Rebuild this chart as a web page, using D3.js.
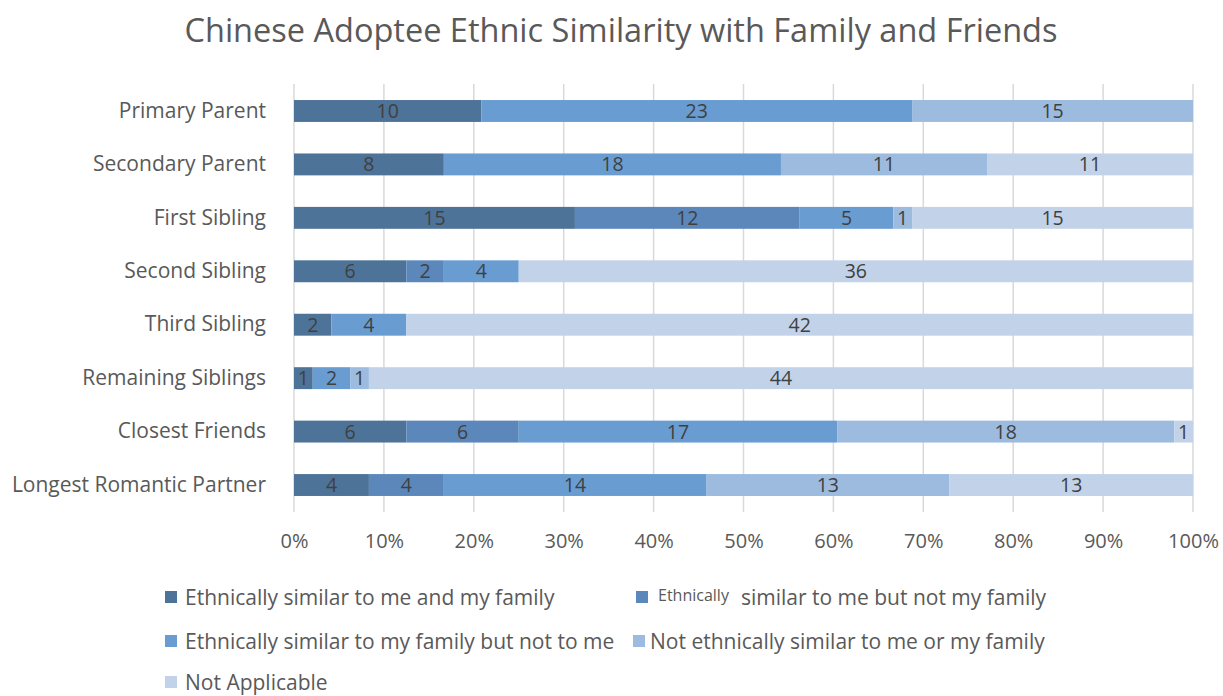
<!DOCTYPE html>
<html lang="en">
<head>
<meta charset="utf-8">
<script src="https://d3js.org/d3.v7.min.js"></script>
<style>
  body { margin: 0; background: #fff; }
  text { font-family: "Open Sans", sans-serif; }
</style>
</head>
<body>
<div id="chart"></div>
<script>

// categories, top to bottom
var categories = ["Primary Parent", "Secondary Parent", "First Sibling", "Second Sibling",
  "Third Sibling", "Remaining Siblings", "Closest Friends", "Longest Romantic Partner"];

// series names
var seriesNames = ["Ethnically similar to me and my family",
  "Ethnically similar to me but not my family",
  "Ethnically similar to my family but not to me",
  "Not ethnically similar to me or my family",
  "Not Applicable"];

// counts per category
var simMeFamily    = [10, 8, 15, 6, 2, 1, 6, 4];
var simMeNotFamily = [0, 0, 12, 2, 0, 0, 6, 4];
var simFamilyNotMe = [23, 18, 5, 4, 4, 2, 17, 14];
var notSimilar     = [15, 11, 1, 0, 0, 1, 18, 13];
var notApplicable  = [0, 11, 15, 36, 42, 44, 1, 13];

var tickValues = [0, 0.1, 0.2, 0.3, 0.4, 0.5, 0.6, 0.7, 0.8, 0.9, 1];

var colors = ["#4e7399", "#5b87bb", "#699dd2", "#9cbbdf", "#c2d3e9"];

var seriesValues = [simMeFamily, simMeNotFamily, simFamilyNotMe, notSimilar, notApplicable];

var W = 1223, H = 696;
var margin = {top: 84, right: 30, bottom: 185, left: 294};
var width = 1193 - margin.left, height = 512 - margin.top;

var svg = d3.select("#chart").append("svg")
  .attr("width", W).attr("height", H);

// title
svg.append("text")
  .attr("x", 621).attr("y", 42)
  .attr("text-anchor", "middle")
  .style("font-size", "32.5px")
  .style("fill", "#595959")
  .text("Chinese Adoptee Ethnic Similarity with Family and Friends");

var g = svg.append("g")
  .attr("transform", "translate(" + margin.left + "," + margin.top + ")");

// rows as objects with shares
var rows = categories.map(function(c, i) {
  var r = {category: c};
  var total = 0;
  seriesNames.forEach(function(s, j) { r[s] = seriesValues[j][i]; total += seriesValues[j][i]; });
  r.total = total;
  return r;
});

var stack = d3.stack().keys(seriesNames)
  .value(function(d, key) { return d[key] / d.total; });
var stacked = stack(rows);

var x = d3.scaleLinear().domain([0, 1]).range([0, width]);
var y = d3.scaleBand().domain(categories).range([0, height]).paddingInner(0.59).paddingOuter(0.3);

// gridlines
g.append("g")
  .selectAll("line")
  .data(tickValues)
  .enter().append("line")
    .attr("x1", function(d) { return x(d); })
    .attr("x2", function(d) { return x(d); })
    .attr("y1", 0).attr("y2", height)
    .style("stroke", "#d9d9d9")
    .style("stroke-width", 1.5);

// x axis labels
var xAxis = g.append("g")
  .attr("transform", "translate(0," + height + ")")
  .call(d3.axisBottom(x).tickValues(tickValues).tickSize(0).tickPadding(22).tickFormat(d3.format(".0%")));
xAxis.select(".domain").remove();
xAxis.selectAll("text")
  .style("font-family", "'Open Sans', sans-serif")
  .style("font-size", "20px")
  .style("fill", "#595959");

// y axis labels
var yAxis = g.append("g")
  .call(d3.axisLeft(y).tickSize(0).tickPadding(28));
yAxis.select(".domain").remove();
yAxis.selectAll("text")
  .style("font-family", "'Open Sans', sans-serif")
  .style("font-size", "21px")
  .style("fill", "#595959");

// bars
var layers = g.selectAll(".layer")
  .data(stacked)
  .enter().append("g")
    .attr("class", "layer")
    .style("fill", function(d, i) { return colors[i]; });

layers.selectAll("rect")
  .data(function(d) { return d; })
  .enter().append("rect")
    .attr("x", function(d) { return x(d[0]); })
    .attr("y", function(d) { return y(d.data.category); })
    .attr("width", function(d) { return x(d[1]) - x(d[0]); })
    .attr("height", y.bandwidth());

// data labels
layers.each(function(layer) {
  d3.select(this).selectAll("text")
    .data(layer.filter(function(d) { return d.data[layer.key] > 0; }))
    .enter().append("text")
      .attr("x", function(d) { return (x(d[0]) + x(d[1])) / 2; })
      .attr("y", function(d) { return y(d.data.category) + y.bandwidth() / 2; })
      .attr("dy", "0.36em")
      .attr("text-anchor", "middle")
      .style("font-size", "19.5px")
      .style("fill", "#404040")
      .text(function(d) { return d.data[layer.key]; });
});

// legend
var legendPos = [[165, 597], [636, 597], [165, 641], [633, 641], [165, 682]];
var legend = svg.selectAll(".legend")
  .data(seriesNames)
  .enter().append("g")
    .attr("class", "legend")
    .attr("transform", function(d, i) { return "translate(" + legendPos[i][0] + "," + legendPos[i][1] + ")"; });

legend.append("rect")
  .attr("x", 0).attr("y", -6)
  .attr("width", 12).attr("height", 12)
  .style("fill", function(d, i) { return colors[i]; });

legend.append("text")
  .attr("x", function(d, i) { return i === 3 ? 17 : 20; })
  .style("font-size", "21px")
  .style("fill", "#595959")
  .each(function(d, i) {
    var t = d3.select(this);
    if (i === 1) {
      // the reference shows the first word smaller
      t.attr("x", 22);
      t.append("tspan").attr("y", 4).style("font-size", "16px").text("Ethnically");
      t.append("tspan").attr("y", 7.5).attr("dx", 12).text(d.replace("Ethnically ", ""));
    } else {
      t.attr("y", 7.5).text(d);
    }
  });

</script>
</body>
</html>
